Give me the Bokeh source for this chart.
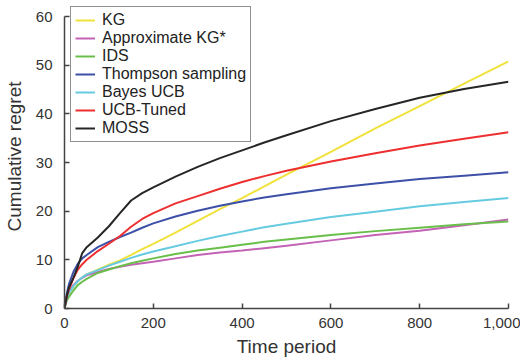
from bokeh.plotting import figure
from bokeh.models import Range1d, Legend, FixedTicker, NumeralTickFormatter
from bokeh.embed import file_html
from bokeh.resources import INLINE

# Time periods
t = [0, 5, 10, 20, 30, 40, 50, 75, 100, 125, 150, 175, 200, 250, 300, 350, 400,
     450, 500, 600, 700, 800, 900, 1000]

kg = [0, 2.2, 3.2, 4.6, 5.6, 6.4, 7.0, 8.0, 9.0, 9.9, 11.0, 12.2, 13.3, 15.6, 18.0,
      20.4, 22.7, 25.1, 27.5, 32.2, 37.0, 41.6, 46.2, 50.8]
approx_kg = [0, 2.5, 3.4, 4.8, 5.7, 6.3, 6.8, 7.5, 8.1, 8.6, 9.0, 9.3, 9.6, 10.3, 11.0,
             11.5, 11.9, 12.4, 12.9, 14.0, 15.1, 16.0, 17.1, 18.3]
ids = [0, 1.6, 2.4, 3.7, 4.8, 5.5, 6.1, 7.3, 8.0, 8.7, 9.3, 9.8, 10.3, 11.2, 11.9,
       12.5, 13.1, 13.7, 14.2, 15.1, 15.9, 16.6, 17.3, 17.9]
thompson = [0, 3.0, 5.0, 7.5, 9.2, 10.3, 11.0, 12.6, 13.7, 14.7, 15.6, 16.6, 17.5, 18.9,
            20.1, 21.1, 22.0, 22.8, 23.5, 24.7, 25.7, 26.6, 27.3, 28.0]
bayes_ucb = [0, 2.2, 3.2, 4.6, 5.6, 6.4, 7.0, 7.9, 8.8, 9.6, 10.4, 11.1, 11.7, 12.8,
             13.9, 14.9, 15.8, 16.7, 17.4, 18.8, 19.9, 21.0, 21.9, 22.7]
ucb_tuned = [0, 2.3, 3.9, 6.2, 8.0, 9.1, 10.0, 11.8, 13.3, 14.9, 16.8, 18.4, 19.6, 21.6,
             23.1, 24.6, 26.0, 27.2, 28.3, 30.2, 31.9, 33.5, 34.9, 36.2]
moss = [0, 2.5, 4.3, 6.3, 8.6, 11.4, 12.6, 14.6, 16.9, 19.6, 22.2, 23.7, 24.9, 27.1,
        29.1, 30.9, 32.5, 34.1, 35.6, 38.5, 41.0, 43.3, 45.1, 46.6]

names = ["KG", "Approximate KG*", "IDS", "Thompson sampling", "Bayes UCB",
         "UCB-Tuned", "MOSS"]
series = [kg, approx_kg, ids, thompson, bayes_ucb, ucb_tuned, moss]
colors = ["#f0e23a", "#c463b6", "#6abf4b", "#3d50a8", "#66cbe0", "#ee2f2f", "#262626"]

x_ticks = [0, 200, 400, 600, 800, 1000]
y_ticks = [0, 10, 20, 30, 40, 50, 60]

FONT = "Liberation Sans"

# frame extends a little above 60 so the legend (which sits above the axis top) is not clipped
p = figure(frame_width=444, frame_height=304,
           output_backend="svg", toolbar_location=None,
           x_range=Range1d(0, 1000), y_range=Range1d(0, 62.47),
           min_border_left=62, min_border_right=12, min_border_top=4,
           min_border_bottom=44)
p.outline_line_color = None
p.xgrid.grid_line_color = None
p.ygrid.grid_line_color = None
p.background_fill_color = "white"

items = []
for name, vals, c in zip(names, series, colors):
    r = p.line(t, vals, line_color=c, line_width=2)
    items.append((name, [r]))

legend = Legend(items=items, location=(6, 166))
legend.border_line_color = "#222222"
legend.border_line_width = 1.5
legend.background_fill_alpha = 1
legend.label_text_font = FONT
legend.label_text_font_size = "16px"
legend.label_text_color = "#222222"
legend.glyph_height = 18
legend.label_height = 18
legend.glyph_width = 20
legend.label_standoff = 7
legend.spacing = 0
legend.padding = 4
legend.margin = 0
p.add_layout(legend)

p.xaxis.ticker = FixedTicker(ticks=x_ticks)
p.yaxis.ticker = FixedTicker(ticks=y_ticks)
p.yaxis.bounds = (y_ticks[0], y_ticks[-1])
p.xaxis.formatter = NumeralTickFormatter(format="0,0")
for ax in (p.xaxis, p.yaxis):
    ax.axis_line_color = "#444444"
    ax.axis_line_width = 1.5
    ax.major_tick_line_color = "#444444"
    ax.major_tick_line_width = 1.5
    ax.major_tick_in = 5
    ax.major_tick_out = 0
    ax.minor_tick_line_color = None
    ax.major_label_text_font = FONT
    ax.major_label_text_font_size = "15px"
    ax.major_label_text_color = "#333333"
    ax.axis_label_text_font = FONT
    ax.axis_label_text_font_style = "normal"
    ax.axis_label_text_color = "#333333"
p.xaxis.axis_label_text_font_size = "19px"
p.yaxis.axis_label_text_font_size = "19px"
p.xaxis.axis_label = "Time period"
p.yaxis.axis_label = "Cumulative regret"
p.xaxis.major_label_standoff = 9
p.yaxis.major_label_standoff = 12
p.xaxis.axis_label_standoff = 5
p.yaxis.axis_label_standoff = 8

open("out.html", "w").write(file_html(p, INLINE))
